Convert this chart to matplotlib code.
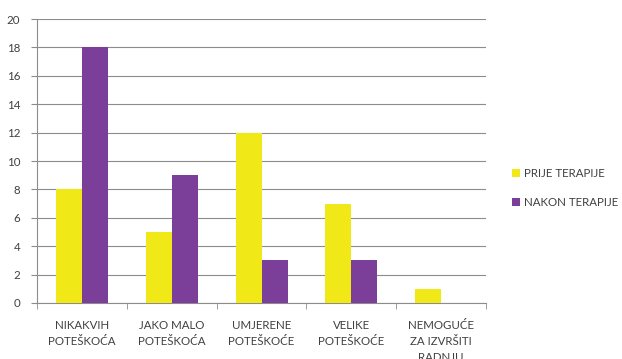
import numpy as np
import matplotlib.pyplot as plt

categories = ['NIKAKVIH\nPOTEŠKOĆA', 'JAKO MALO\nPOTEŠKOĆA', 'UMJERENE\nPOTEŠKOĆE',
              'VELIKE\nPOTEŠKOĆE', 'NEMOGUĆE\nZA IZVRŠITI\nRADNJU']
prije = [8, 5, 12, 7, 1]
nakon = [18, 9, 3, 3, 0]
series_names = ['PRIJE TERAPIJE', 'NAKON TERAPIJE']

plt.rcParams['font.family'] = ['Lato', 'DejaVu Sans']
yellow = '#F0E817'
purple = '#7B3F9A'
txt = '#404040'

fig = plt.figure(figsize=(6.22, 3.59), dpi=100)
ax = fig.add_axes([0.0595, 0.156, 0.722, 0.791])

x = np.arange(len(categories))
w = 0.29
ax.bar(x - w/2, prije, w, color=yellow, label=series_names[0], zorder=3)
ax.bar(x + w/2, nakon, w, color=purple, label=series_names[1], zorder=3)

ax.set_xlim(-0.5, len(categories) - 0.5)
ax.set_ylim(0, 20)
ax.set_yticks(range(0, 21, 2))
ax.grid(axis='y', color='#8c8c8c', linewidth=0.8, zorder=0)

ax.set_xticks(x)
ax.set_xticklabels(categories, fontsize=8.3, color=txt, linespacing=1.55)
ax.tick_params(axis='x', length=0, pad=12)
ax.set_xticks(np.arange(-0.5, len(categories)), minor=True)
ax.tick_params(axis='x', which='minor', length=4, color='#8c8c8c')
ax.tick_params(axis='y', labelsize=8.3, labelcolor=txt, length=4, color='#8c8c8c', pad=8)

for s in ['top', 'right']:
    ax.spines[s].set_visible(False)
for s in ['left', 'bottom']:
    ax.spines[s].set_color('#8c8c8c')

ax.legend(loc='center left', bbox_to_anchor=(1.035, 0.405), frameon=False, fontsize=8.3,
          handlelength=0.7, handleheight=0.7, handletextpad=0.3, labelspacing=1.5,
          labelcolor=txt)

fig.savefig('out.png', dpi=100)
